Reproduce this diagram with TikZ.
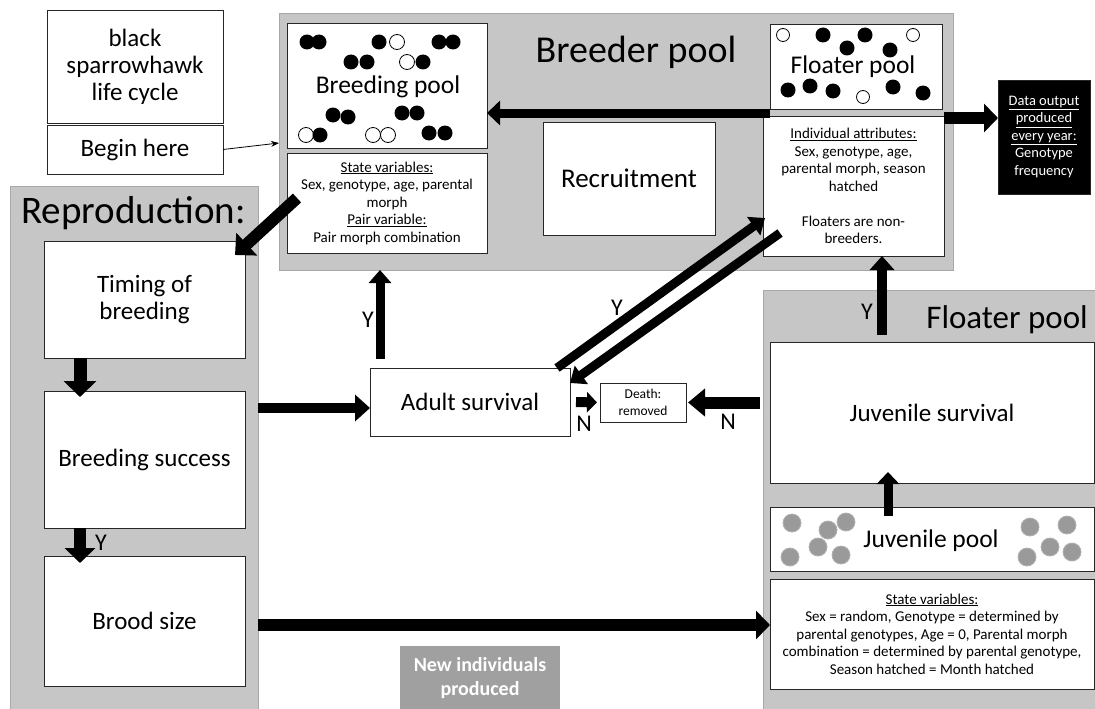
\documentclass[tikz,border=0pt]{standalone}
\usepackage{fontspec}
\setmainfont{Carlito}
\usetikzlibrary{arrows.meta,calc}
\definecolor{panel}{HTML}{C6C6C6}
\definecolor{panelline}{HTML}{A8A8A8}
\definecolor{juv}{HTML}{9A9A9A}
\definecolor{juvline}{HTML}{B0B0B0}
\definecolor{newind}{HTML}{A0A0A0}
\newcommand\setfs[2]{\fontsize{#1}{#2}\selectfont}
\begin{document}
\begin{tikzpicture}[x=1pt,y=-1pt,
  box/.style={draw=black!85, line width=0.9pt, fill=white, inner sep=0pt, outer sep=0pt, align=center, anchor=north west},
  panelbox/.style={draw=panelline, line width=1pt, fill=panel, inner sep=0pt, outer sep=0pt, anchor=north west},
  big/.style={font=\setfs{25}{27}},
  small/.style={font=\setfs{15}{17.5}},
  yn/.style={font=\setfs{24}{24}, inner sep=0pt},
  fatarrow/.style n args={3}{line width=#1, -{Triangle[length=#2,width=#3]}},
  bcirc/.style={fill=black},
  wcirc/.style={draw=black, fill=white, line width=0.8pt},
  jcirc/.style={draw=juvline, fill=juv, line width=0.8pt}
]
\useasboundingbox (0,0) rectangle (1095,709);

% panels
\node[panelbox, minimum width=674pt, minimum height=256pt] (breeder) at (279,14) {};
\node[panelbox, minimum width=248pt, minimum height=540pt] (repro) at (10,186) {};
\node[panelbox, minimum width=345pt, minimum height=440pt] (fpanel) at (763,290) {};

\node[font=\setfs{38}{40}, inner sep=0pt, anchor=base] (breedertitle) at (636,63) {Breeder pool};
\node[font=\setfs{39}{42}, inner sep=0pt, anchor=base west] (reprotitle) at (21,223) {Reproduction:};
\node[font=\setfs{33}{36}, inner sep=0pt, anchor=base east] (fpaneltitle) at (1088,328) {Floater pool};

% boxes
\node[box, minimum width=176pt, minimum height=113pt, big] (title) at (47,10) {black\\sparrowhawk\\life cycle};
\node[box, minimum width=176pt, minimum height=49pt, big] (begin) at (47,125) {Begin here};
\node[box, minimum width=200pt, minimum height=125pt] (bpool) at (287,23) {};
\node[box, minimum width=200pt, minimum height=100pt, small] (bstate) at (287,153)
  {\underline{State variables:}\\Sex, genotype, age, parental\\morph\\\underline{Pair variable:}\\Pair morph combination};
\node[box, minimum width=172pt, minimum height=113pt, font=\setfs{27}{30}] (recruit) at (543,122) {Recruitment};
\node[box, minimum width=172pt, minimum height=85pt] (floattop) at (770,24) {};
\node[box, minimum width=181pt, minimum height=140pt, small] (attrs) at (763,116)
  {\underline{Individual attributes:}\\Sex, genotype, age,\\parental morph, season\\hatched\\[17.5pt]Floaters are non-\\breeders.};
\node[box, fill=black, text=white, minimum width=92pt, minimum height=114pt, font=\setfs{14.5}{17.5}] (dataout) at (998,80)
  {\underline{Data output}\\\underline{produced}\\\underline{every year:}\\Genotype\\frequency};
\node[box, minimum width=201pt, minimum height=117pt, big] (timing) at (44,241) {Timing of\\breeding};
\node[box, minimum width=201pt, minimum height=137pt, big] (bs) at (44,391) {Breeding success};
\node[box, minimum width=201pt, minimum height=130pt, big] (brood) at (44,556) {Brood size};
\node[box, minimum width=200pt, minimum height=68pt, big] (adult) at (370,368) {Adult survival};
\node[box, minimum width=86pt, minimum height=39pt, font=\setfs{13.5}{17}] (death) at (600,383) {Death:\\removed};
\node[box, minimum width=324pt, minimum height=141pt, big] (juvsurv) at (770,342) {Juvenile survival};
\node[box, minimum width=324pt, minimum height=64pt] (juvpool) at (770,507) {};
\node[box, minimum width=324pt, minimum height=110pt, small] (juvstate) at (770,579)
  {\underline{State variables:}\\Sex = random, Genotype = determined by\\parental genotypes, Age = 0, Parental morph\\combination = determined by parental genotype,\\Season hatched = Month hatched};
\node[box, draw=none, fill=newind, text=white, minimum width=160pt, minimum height=64pt, font=\bfseries\setfs{20}{24}] (newind) at (400,646) {New individuals\\produced};

% breeding pool circles
\foreach \p in {(397,42),(407,62),(306,135),(373,135),(388,135)} \draw[wcirc] \p circle[radius=7.5pt];
\foreach \p in {(307,42),(319,42),(379,42),(439,42),(453,42),(351,62),(367,62),(423,62),(333,115),(348,117),(402,113),(417,113),(320,135),(429,133),(445,133)} \fill[bcirc] \p circle[radius=7.5pt];
\node[font=\setfs{25.5}{28}, inner sep=0pt, anchor=base] (bpoollabel) at (388,93) {Breeding pool};

% floater pool circles
\foreach \p in {(783,35),(913,35),(863,97)} \draw[wcirc] \p circle[radius=6.5pt];
\foreach \p in {(823,35),(847,48),(865,35),(890,50),(788,90),(810,86),(833,91),(893,87),(923,93)} \fill[bcirc] \p circle[radius=7.5pt];
\node[font=\setfs{25.5}{28}, inner sep=0pt, anchor=base] (floatlabel) at (853,74) {Floater pool};

% juvenile pool circles
\foreach \p in {(792,523),(828,530),(846,522),(818,547),(841,555),(790,557),(1030,527),(1067,525),(1027,557),(1050,547),(1072,552)} \draw[jcirc] \p circle[radius=9pt];
\node[font=\setfs{25.5}{28}, inner sep=0pt, anchor=base] (juvlabel) at (931,547) {Juvenile pool};

% Y / N labels
\node[yn] (y1) at (368,320) {Y};
\node[yn] (y2) at (617,308) {Y};
\node[yn] (n1) at (584,424) {N};
\node[yn] (n2) at (728,422) {N};
\node[yn] (y3) at (867,312) {Y};
\node[yn] (y4) at (101,543) {Y};

% connectors
\draw[line width=0.8pt, -{Stealth[length=8pt,width=6pt]}] (begin.east) -- (breeder.west |- 0,143);

\coordinate (fb) at ([yshift=-4pt]floattop.south west);
\draw[fatarrow={9pt}{13pt}{24pt}] (fb) -- (fb -| bpool.east);

\draw[fatarrow={12pt}{14pt}{28pt}] (attrs.east |- 0,118) -- (dataout.west |- 0,118);

\draw[fatarrow={12pt}{16pt}{30pt}] ([xshift=10pt,yshift=5pt]bstate.west) -- ([xshift=-10pt,yshift=-14pt]timing.north east);

\coordinate (t1) at ([xshift=36pt]timing.south west);
\draw[fatarrow={13pt}{16pt}{32pt}] (t1) -- ([yshift=-6pt]t1 |- bs.north);

\coordinate (b1) at ([xshift=36pt]bs.south west);
\draw[fatarrow={12pt}{15pt}{30pt}] (b1) -- ([yshift=-7pt]b1 |- brood.north);

\draw[fatarrow={10pt}{15pt}{26pt}] (repro.east |- 0,408) -- (adult.west |- 0,408);

\coordinate (a1) at ([xshift=10pt,yshift=9pt]adult.north west);
\draw[fatarrow={9pt}{13pt}{22pt}] (a1) -- (a1 |- breeder.south);

\draw[fatarrow={10pt}{10pt}{20pt}] ([xshift=6pt]adult.east) -- ([xshift=-3pt]death.west);

\coordinate (j1) at ([xshift=-3pt]fpanel.west |- death.east);
\draw[fatarrow={12pt}{17pt}{27pt}] (j1) -- ([xshift=2pt]death.east);

\draw[fatarrow={9pt}{14pt}{22pt}] ([xshift=-13pt]adult.north east) -- ([xshift=2pt,yshift=-32pt]attrs.west);
\draw[fatarrow={9pt}{14pt}{22pt}] ([xshift=17pt,yshift=-47pt]attrs.west) -- ([yshift=-15pt]adult.north east);

\coordinate (j2) at ([xshift=112pt,yshift=7pt]juvsurv.north west);
\draw[fatarrow={10pt}{14pt}{24pt}] (j2) -- (j2 |- attrs.south);

\coordinate (j3) at ([xshift=118pt,yshift=-9pt]juvpool.north west);
\coordinate (j3b) at (j3 |- juvsurv.south);
\draw[fatarrow={9pt}{12pt}{22pt}] (j3) -- ([yshift=11pt]j3b);

\draw[fatarrow={12pt}{14pt}{28pt}] (repro.east |- 0,625) -- (juvstate.west |- 0,625);
\end{tikzpicture}
\end{document}
